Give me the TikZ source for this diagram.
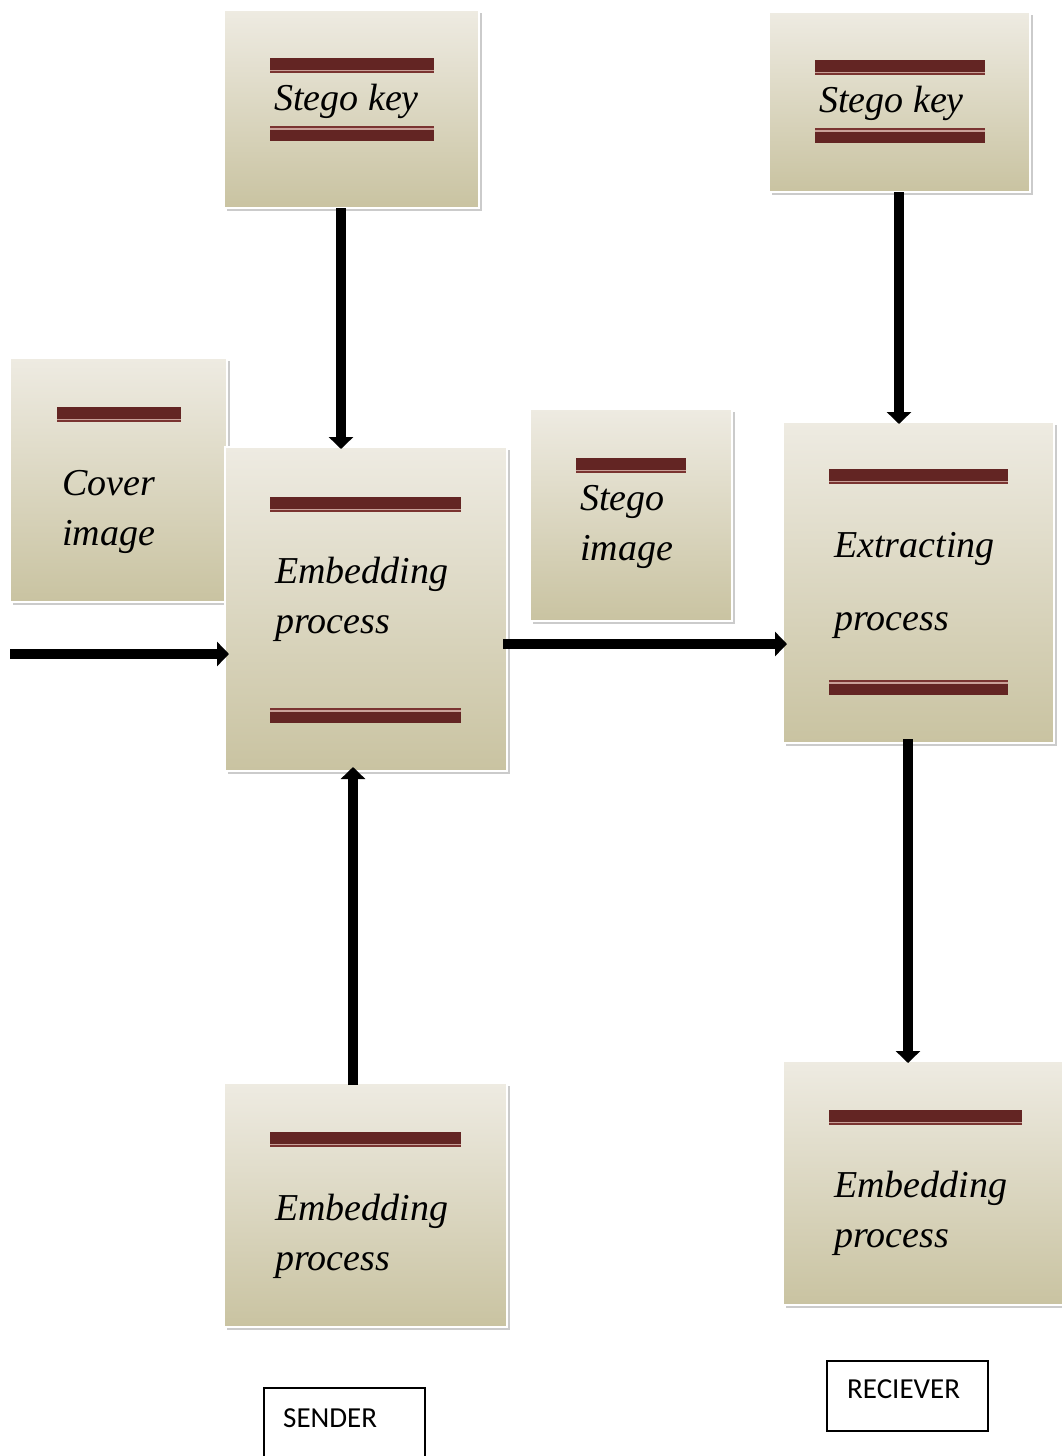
\documentclass[tikz,border=0pt]{standalone}
\usepackage{fontspec}
\setmainfont{Liberation Serif}
\newfontfamily\labfont{Carlito}
\usetikzlibrary{arrows.meta,shadows}
\definecolor{barc}{HTML}{632523}
\definecolor{barthin}{HTML}{7A3431}
\definecolor{bargap}{HTML}{C9A199}
\definecolor{boxtop}{HTML}{EEEBE2}
\definecolor{boxbot}{HTML}{C9C3A1}
\tikzset{
 box/.style={rectangle, anchor=north west, inner sep=0pt, outer sep=0pt, draw=white, line width=1.2pt,
   top color=boxtop, bottom color=boxbot,
   drop shadow={shadow xshift=2.5pt, shadow yshift=-2.5pt, fill=black!40, opacity=0.5}},
 txt/.style={anchor=base west, inner sep=0pt, font=\fontsize{38}{40}\selectfont\itshape},
 arr/.style={line width=10pt, -{Triangle[length=12pt,width=24pt]}, black},
 lab/.style={rectangle, draw=black, line width=1.6pt, anchor=north west, inner sep=0pt, fill=white},
 labtxt/.style={anchor=base west, inner sep=0pt, font=\fontsize{29}{32}\selectfont\labfont},
}
\newcommand\topbarx[3]{%
 \fill[barc] (#1,#3) rectangle (#2,#3+11.5);
 \fill[bargap] (#1,#3+11.5) rectangle (#2,#3+13);
 \fill[barthin] (#1,#3+13) rectangle (#2,#3+15);}
\newcommand\botbarx[3]{%
 \fill[barthin] (#1,#3) rectangle (#2,#3+2);
 \fill[bargap] (#1,#3+2) rectangle (#2,#3+3.5);
 \fill[barc] (#1,#3+3.5) rectangle (#2,#3+15);}
\begin{document}
\begin{tikzpicture}[x=1pt,y=-1pt]
\useasboundingbox[fill=white] (0,0) rectangle (1062,1456);
% boxes
\node[box, minimum width=255pt, minimum height=198pt] (sk1) at (224,10) {};
\node[box, minimum width=261pt, minimum height=180pt] (sk2) at (769,12) {};
\node[box, minimum width=217pt, minimum height=244pt] (cov) at (10,358) {};
\node[box, minimum width=282pt, minimum height=324pt] (emb) at (225,447) {};
\node[box, minimum width=202pt, minimum height=212pt] (sti) at (530,409) {};
\node[box, minimum width=271pt, minimum height=321pt] (ext) at (783,422) {};
\node[box, minimum width=283pt, minimum height=244pt] (emb3) at (224,1083) {};
\node[box, minimum width=290pt, minimum height=244pt] (emb4) at (783,1061) {};
% bars
\topbarx{270}{434}{58}\botbarx{270}{434}{126}
\topbarx{815}{985}{60}\botbarx{815}{985}{128}
\topbarx{57}{181}{407}
\topbarx{270}{461}{497}\botbarx{270}{461}{708}
\topbarx{576}{686}{458}
\topbarx{829}{1008}{469}\botbarx{829}{1008}{680}
\topbarx{270}{461}{1132}
\topbarx{829}{1022}{1110}
% texts
\node[txt] (t1) at (274,110) {Stego key};
\node[txt] (t2) at (819,112) {Stego key};
\node[txt] (t3) at (62,495) {Cover};
\node[txt] (t4) at (62,545) {image};
\node[txt] (t5) at (275,583) {Embedding};
\node[txt] (t6) at (275,633) {process};
\node[txt] (t7) at (580,510) {Stego};
\node[txt] (t8) at (580,560) {image};
\node[txt] (t9) at (834,557) {Extracting};
\node[txt] (t10) at (834,630) {process};
\node[txt] (t11) at (275,1220) {Embedding};
\node[txt] (t12) at (275,1270) {process};
\node[txt] (t13) at (834,1197) {Embedding};
\node[txt] (t14) at (834,1247) {process};
% labels
\node[lab, minimum width=161pt, minimum height=100pt] (snd) at (263,1387) {};
\node[labtxt] (sndt) at (283,1427) {SENDER};
\node[lab, minimum width=161pt, minimum height=70pt] (rcv) at (826,1360) {};
\node[labtxt] (rcvt) at (847,1398) {RECIEVER};
% connectors
\coordinate (xa) at (341,0);
\coordinate (xb) at (899,0);
\coordinate (xc) at (353,0);
\coordinate (xd) at (908,0);
\coordinate (ya) at (0,654);
\coordinate (yb) at (0,644);
\coordinate (inp) at (10,654);
\draw[arr] (sk1.south -| xa) -- ([yshift=-2pt]emb.north -| xa);
\draw[arr] (sk2.south -| xb) -- ([yshift=-2pt]ext.north -| xb);
\draw[arr] (inp) -- ([xshift=4pt]emb.west |- ya);
\draw[arr] ([xshift=-4pt]emb.east |- yb) -- ([xshift=4pt]ext.west |- yb);
\draw[arr] ([yshift=-2pt]emb3.north -| xc) -- ([yshift=4pt]emb.south -| xc);
\draw[arr] ([yshift=4pt]ext.south -| xd) -- ([yshift=-2pt]emb4.north -| xd);
\end{tikzpicture}
\end{document}
